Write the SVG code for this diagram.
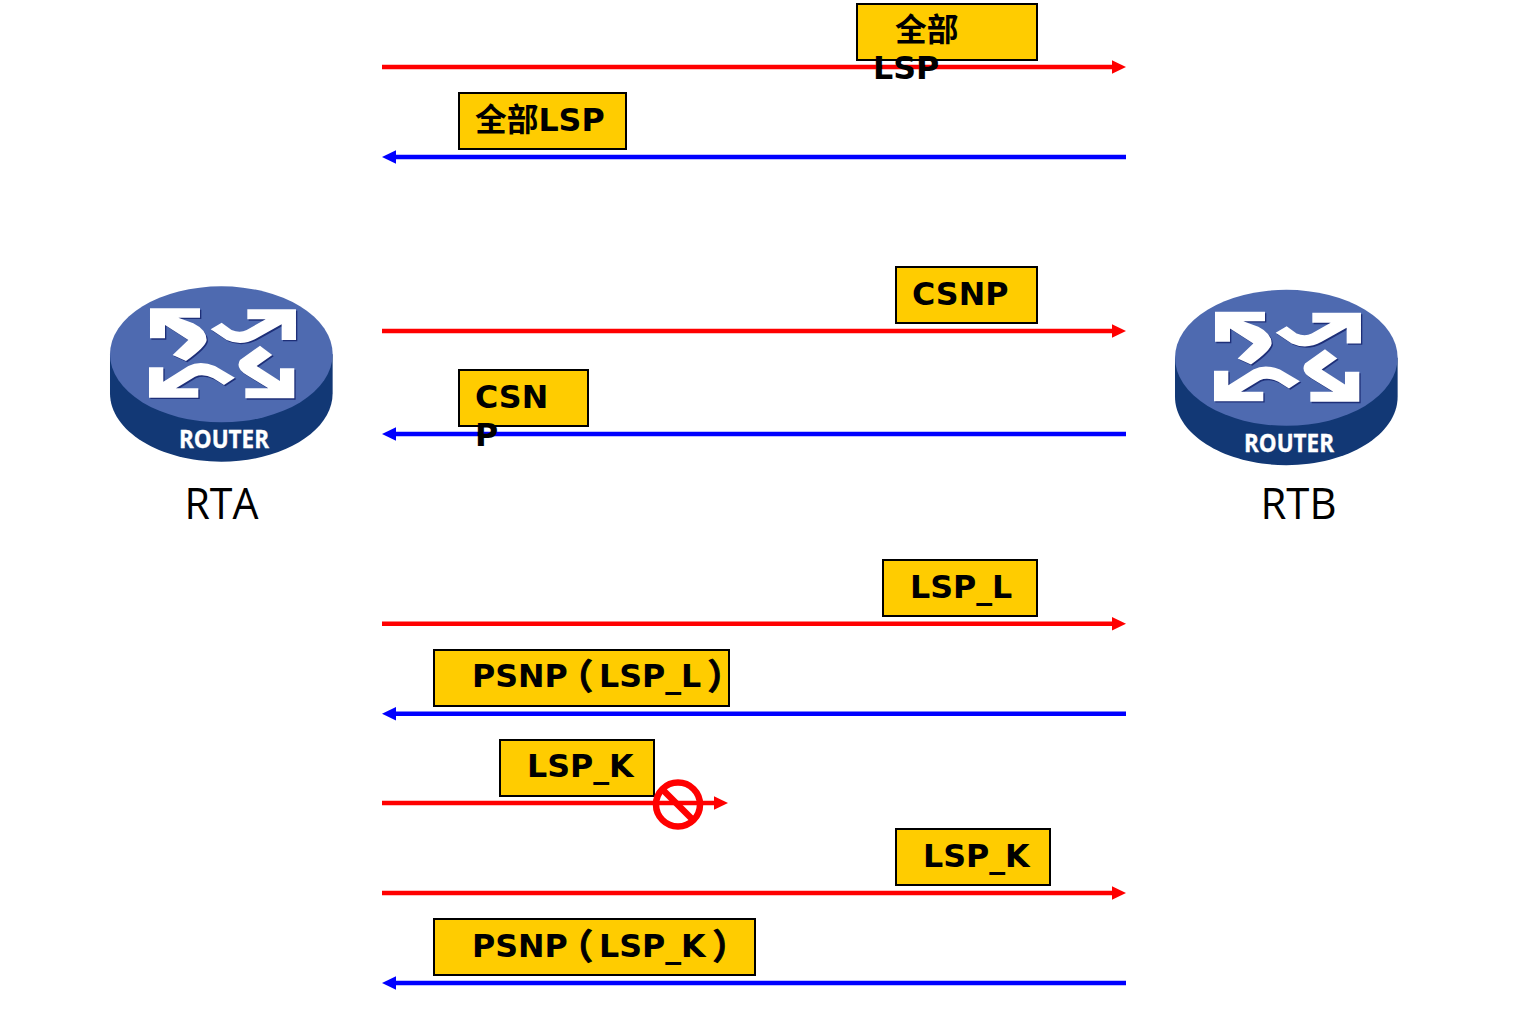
<svg xmlns="http://www.w3.org/2000/svg" xmlns:xlink="http://www.w3.org/1999/xlink" width="1539" height="1019" viewBox="0 0 1539 1019">
<style>
.box{fill:#ffcc00;stroke:#000;stroke-width:2}
.lbl{font-family:"DejaVu Sans","Noto Sans CJK SC",sans-serif;font-weight:700;font-size:31.700px;fill:#000}
.par{font-family:"Noto Sans CJK SC",sans-serif;font-size:35px;stroke:#000;stroke-width:.9;font-feature-settings:"palt"}
.name{font-family:"Open Sans",sans-serif;font-size:43px;fill:#000}
.red{stroke:#ff0000;stroke-width:4.400;fill:none;marker-end:url(#ar)}
.blue{stroke:#0000ff;stroke-width:4.400;fill:none;marker-end:url(#ab)}
.rt{font-family:"Open Sans",sans-serif;font-weight:700;font-size:25.500px;fill:#fff;stroke:#fff;stroke-width:.4}
</style>
<defs>
<marker id="ar" markerUnits="userSpaceOnUse" markerWidth="14" markerHeight="14" refX="1" refY="7" orient="auto"><path d="M0,0.300L14,7L0,13.700Z" fill="#ff0000"/></marker>
<marker id="ab" markerUnits="userSpaceOnUse" markerWidth="14" markerHeight="14" refX="1" refY="7" orient="auto"><path d="M0,0.300L14,7L0,13.700Z" fill="#0000ff"/></marker>
<path id="arrows" d="M150,85L300,85L300,113L235,113L280,130Q320,150 320,180Q318,200 258,243L218,225L265,180L195,135L195,175L150,175Z
M588,88L442,88L442,118L497,118L440,150Q420,160 395,150L365,128L332,148L380,180Q425,200 470,175L545,133L545,180L588,180Z
M147,353L295,353L295,325L228,325L285,290Q310,280 340,295L372,315L405,293L345,258Q300,240 265,258L190,305L190,262L147,262Z
M583,355L436,355L436,325L505,325L440,285Q405,265 420,240L480,197L517,225L470,258L540,303L540,265L583,265Z"/>
<g id="router">
<path d="M30,223V340C30,453 179,545 364,545C549,545 698,453 698,340V223Z" fill="#123875"/>
<ellipse cx="364" cy="223" rx="334" ry="204" fill="#4e6ab0"/>
<use xlink:href="#arrows" href="#arrows" fill="#1e2f78" transform="translate(4,4)"/>
<use xlink:href="#arrows" href="#arrows" fill="#ffffff"/>
</g>
</defs>
<g id="connectors">
<path class="red" d="M382,67H1113"/>
<path class="blue" d="M1126,157H395"/>
<path class="red" d="M382,331H1113"/>
<path class="blue" d="M1126,434H395"/>
<path class="red" d="M382,623.700H1113"/>
<path class="blue" d="M1126,713.700H395"/>
<path class="red" d="M382,803H715"/>
<path class="red" d="M382,893H1113"/>
<path class="blue" d="M1126,983H395"/>
</g>
<g id="RTA">
<use xlink:href="#router" href="#router" transform="translate(100,280) scale(.3333)"/>
<text class="rt" x="179" y="448" textLength="90" lengthAdjust="spacingAndGlyphs">ROUTER</text>
<text class="name" x="184.500" y="519" textLength="74" lengthAdjust="spacingAndGlyphs">RTA</text>
</g>
<g id="RTB">
<use xlink:href="#router" href="#router" transform="translate(1165,283.500) scale(.3333)"/>
<text class="rt" x="1244" y="452" textLength="90" lengthAdjust="spacingAndGlyphs">ROUTER</text>
<text class="name" x="1260.500" y="519" textLength="76" lengthAdjust="spacingAndGlyphs">RTB</text>
</g>
<g id="msg1"><rect class="box" x="857" y="4" width="180" height="56"/><text class="lbl" x="895" y="41">全部</text><text class="lbl" x="873" y="79">LSP</text></g>
<g id="msg2"><rect class="box" x="459" y="93" width="167" height="56"/><text class="lbl" x="475" y="131">全部LSP</text></g>
<g id="msg3"><rect class="box" x="896" y="267" width="141" height="56"/><text class="lbl" x="912" y="305">CSNP</text></g>
<g id="msg4"><rect class="box" x="459" y="370" width="129" height="56"/><text class="lbl" x="475" y="408">CSN</text><text class="lbl" x="475" y="446">P</text></g>
<g id="msg5"><rect class="box" x="883" y="560" width="154" height="56"/><text class="lbl" x="910" y="598">LSP_L</text></g>
<g id="msg6"><rect class="box" x="434" y="650" width="295" height="56"/><text class="lbl" x="472" y="687">PSNP<tspan class="par" x="574" y="689">（</tspan><tspan x="599" y="687">LSP_L</tspan><tspan class="par" x="709" y="689">）</tspan></text></g>
<g id="msg7"><rect class="box" x="500" y="740" width="154" height="56"/><text class="lbl" x="527" y="777">LSP_K</text></g>
<g id="msg8"><rect class="box" x="896" y="829" width="154" height="56"/><text class="lbl" x="923" y="867">LSP_K</text></g>
<g id="msg9"><rect class="box" x="434" y="919" width="321" height="56"/><text class="lbl" x="472" y="957">PSNP<tspan class="par" x="574" y="959">（</tspan><tspan x="599" y="957">LSP_K</tspan><tspan class="par" x="714" y="959">）</tspan></text></g>
<g id="block" fill="none" stroke="#ff0000" stroke-width="6.500">
<circle cx="678" cy="804.500" r="22"/>
<path d="M662,789L694,821"/>
</g>
</svg>
